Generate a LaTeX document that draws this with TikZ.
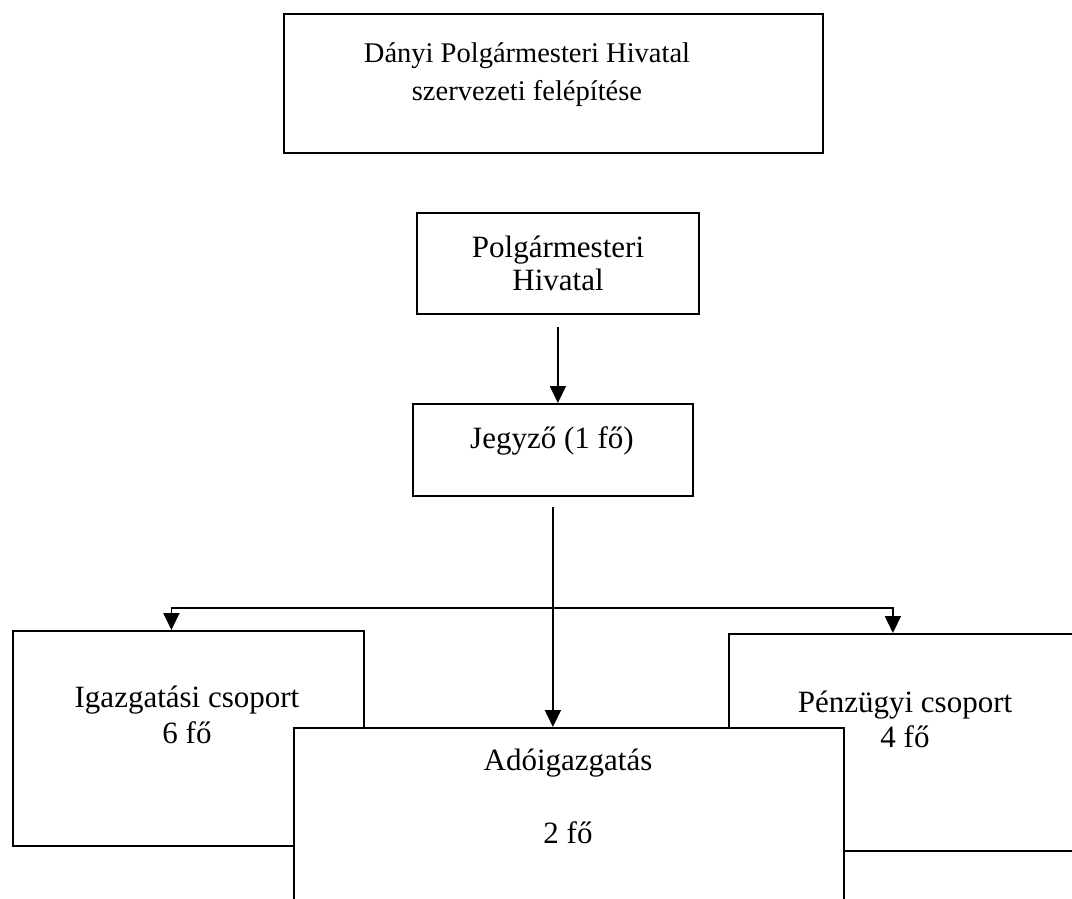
\documentclass[tikz,border=0pt]{standalone}
\usepackage{fontspec}
\setmainfont{Liberation Serif}
\usetikzlibrary{arrows.meta}
\begin{document}
\begin{tikzpicture}[x=1pt,y=-1pt,
  box/.style={draw, line width=1.8pt, rectangle, inner sep=0pt, anchor=north west, fill=white},
  lbl/.style={font=\fontsize{31}{35}\selectfont, align=center, anchor=base, inner sep=0pt},
  conn/.style={line width=1.8pt, -{Triangle[length=17pt,width=16pt]}}]
\clip (0,0) rectangle (1072,898);
\fill[white] (0,0) rectangle (1072,898);
% boxes
\node[box, minimum width=539pt, minimum height=139pt] (title) at (283,13) {};
\node[box, minimum width=282pt, minimum height=101pt] (polg) at (416,212) {};
\node[box, minimum width=280pt, minimum height=92pt] (jegy) at (412,403) {};
\node[box, minimum width=351pt, minimum height=215pt] (igaz) at (12,630) {};
\node[box, minimum width=372pt, minimum height=217pt] (penz) at (728,633) {};
\node[box, minimum width=550pt, minimum height=200pt] (ado) at (293,727) {};
% labels (anchor base = baseline of last line)
\node[lbl, font=\fontsize{28.5}{38}\selectfont] (titlet) at (527,100) {Dányi Polgármesteri Hivatal\\szervezeti felépítése};
\node[lbl, font=\fontsize{31}{33}\selectfont] (polgt) at (558,290) {Polgármesteri\\Hivatal};
\node[lbl] (jegyt) at (552,448) {Jegyző (1 fő)};
\node[lbl, font=\fontsize{31}{36}\selectfont] (igazt) at (187,743) {Igazgatási csoport\\6 fő};
\node[lbl, font=\fontsize{31}{73}\selectfont] (adot) at (568,843) {Adóigazgatás\\2 fő};
\node[lbl, font=\fontsize{31}{35}\selectfont] (penzt) at (905,747) {Pénzügyi csoport\\4 fő};
% connectors
\draw[conn, shorten <=12pt] (polg.south) -- (polg.south |- jegy.north);
\draw[conn, shorten <=10pt] (jegy.south) -- (jegy.south |- ado.north);
\coordinate (br) at (jegy.south |- 0,608);
\draw[conn] (br) -| ([xshift=-17pt]igaz.north);
\draw[conn] (br) -| ([xshift=-22pt]penz.north);
\end{tikzpicture}
\end{document}
